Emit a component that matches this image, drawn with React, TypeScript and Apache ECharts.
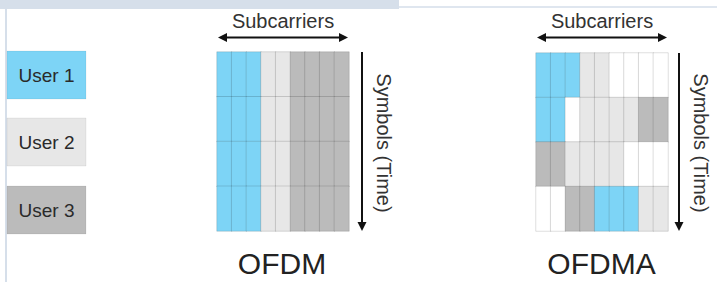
import React, { useEffect, useRef } from "react";
import * as echarts from "echarts";

const subcarriers = ["1", "2", "3", "4", "5", "6", "7", "8", "9"];
const symbols = ["1", "2", "3", "4"];
const users = ["User 1", "User 2", "User 3"];
// 0 = unused, 1..3 = user index
const ofdmAlloc = [
  [1, 1, 1, 2, 2, 3, 3, 3, 3],
  [1, 1, 1, 2, 2, 3, 3, 3, 3],
  [1, 1, 1, 2, 2, 3, 3, 3, 3],
  [1, 1, 1, 2, 2, 3, 3, 3, 3],
];
const ofdmaAlloc = [
  [1, 1, 1, 2, 2, 0, 0, 0, 0],
  [1, 1, 0, 2, 2, 2, 2, 3, 3],
  [3, 3, 2, 2, 2, 2, 0, 0, 0],
  [0, 0, 3, 3, 1, 1, 1, 2, 2],
];
const schemeTitles = ["OFDM", "OFDMA"];
const axisTitleX = "Subcarriers";
const axisTitleY = "Symbols (Time)";

const cellColors = ["#ffffff", "#7dd4f6", "#e7e7e7", "#bbbbbb"];
const FONT = "'Liberation Sans', Arial, sans-serif";

function toData(alloc: number[][]) {
  const out: number[][] = [];
  alloc.forEach((row, r) => row.forEach((v, c) => out.push([c, r, v])));
  return out;
}

export default function App() {
  const ref = useRef<HTMLDivElement>(null);
  useEffect(() => {
    document.body.style.margin = "0";
    const chart = echarts.init(ref.current!, null, { renderer: "svg" });
    const grids = [
      { left: 217, top: 52, width: 132, height: 179 },
      { left: 536, top: 53, width: 132, height: 178 },
    ];
    const graphics: any[] = [
      { type: "rect", shape: { x: 0, y: 0, width: 399, height: 9 }, style: { fill: "#d6dfea" } },
      { type: "rect", shape: { x: 399, y: 6, width: 318, height: 2 }, style: { fill: "#dfe6ef" } },
      { type: "rect", shape: { x: 5, y: 9, width: 2, height: 273 }, style: { fill: "#d6dfea" } },
    ];
    const legendTops = [51, 118, 186];
    users.forEach((u, i) => {
      graphics.push({
        type: "rect",
        shape: { x: 7, y: legendTops[i], width: 79, height: 48 },
        style: { fill: cellColors[i + 1], stroke: "rgba(0,0,0,0.06)", lineWidth: 1 },
      });
      graphics.push({
        type: "text",
        x: 46.5,
        y: legendTops[i] + 24,
        style: {
          text: u,
          font: `19px ${FONT}`,
          fill: "#2a2a2a",
          align: "center",
          verticalAlign: "middle",
        },
      });
    });
    const vArrowX = [362, 679];
    const vTextX = [384, 701];
    grids.forEach((g, i) => {
      const cx = g.left + g.width / 2;
      const x0 = g.left + 1;
      const x1 = g.left + g.width - 1;
      const ay = 37.5;
      graphics.push({
        type: "text",
        x: cx,
        y: 21,
        style: { text: axisTitleX, font: `20px ${FONT}`, fill: "#333", align: "center", verticalAlign: "middle" },
      });
      graphics.push({ type: "line", shape: { x1: x0 + 6, y1: ay, x2: x1 - 6, y2: ay }, style: { stroke: "#111", lineWidth: 2 } });
      graphics.push({ type: "polygon", shape: { points: [[x0, ay], [x0 + 9, ay - 4.5], [x0 + 9, ay + 4.5]] }, style: { fill: "#111" } });
      graphics.push({ type: "polygon", shape: { points: [[x1, ay], [x1 - 9, ay - 4.5], [x1 - 9, ay + 4.5]] }, style: { fill: "#111" } });
      const vx = vArrowX[i];
      const yTop = g.top;
      const yBot = 231;
      graphics.push({ type: "line", shape: { x1: vx, y1: yTop, x2: vx, y2: yBot - 6 }, style: { stroke: "#111", lineWidth: 2 } });
      graphics.push({ type: "polygon", shape: { points: [[vx, yBot], [vx - 4.5, yBot - 9], [vx + 4.5, yBot - 9]] }, style: { fill: "#111" } });
      graphics.push({
        type: "text",
        x: vTextX[i],
        y: 143,
        rotation: -Math.PI / 2,
        style: { text: axisTitleY, font: `20px ${FONT}`, fill: "#333", align: "center", verticalAlign: "middle" },
      });
      graphics.push({
        type: "text",
        x: cx + (i === 0 ? -1 : -0.5),
        y: 263,
        style: { text: schemeTitles[i], font: `30px ${FONT}`, fill: "#222", align: "center", verticalAlign: "middle" },
      });
    });

    chart.setOption({
      animation: false,
      backgroundColor: "#ffffff",
      grid: grids,
      xAxis: grids.map((_, i) => ({ type: "category", gridIndex: i, data: subcarriers, show: false })),
      yAxis: grids.map((_, i) => ({ type: "category", gridIndex: i, data: symbols, inverse: true, show: false })),
      visualMap: {
        type: "piecewise",
        show: false,
        dimension: 2,
        seriesIndex: [0, 1],
        pieces: cellColors.map((c, v) => ({ value: v, color: c })),
      },
      series: [ofdmAlloc, ofdmaAlloc].map((alloc, i) => ({
        type: "heatmap",
        xAxisIndex: i,
        yAxisIndex: i,
        data: toData(alloc),
        itemStyle: { borderColor: "rgba(0,0,0,0.13)", borderWidth: 1 },
        emphasis: { disabled: true },
      })),
      graphic: graphics,
    });
    return () => chart.dispose();
  }, []);
  return <div ref={ref} style={{ width: 717, height: 282 }} />;
}
